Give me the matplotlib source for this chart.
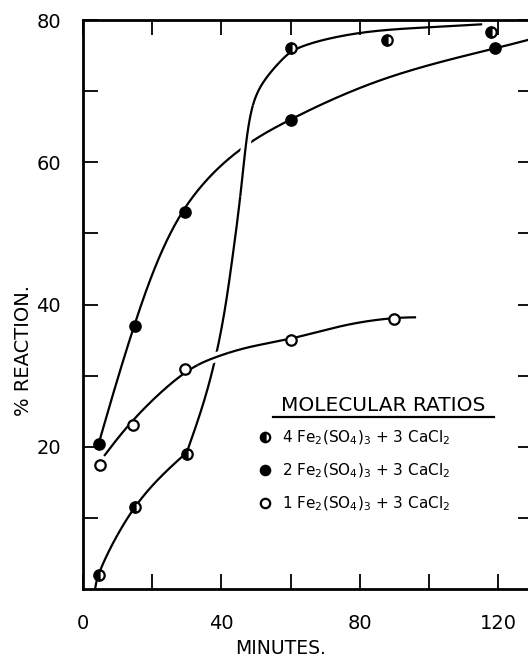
import numpy as np
import matplotlib
matplotlib.use("Agg")
import matplotlib.pyplot as plt
import matplotlib.patheffects as pe
from matplotlib.ticker import FixedLocator, NullFormatter

# Observed reaction extents (% reaction vs minutes)
t_4fe = [4.5, 15, 30, 60, 88, 118]
r_4fe = [2.0, 11.5, 19.0, 76.0, 77.2, 78.3]

t_2fe = [4.5, 15, 29.5, 60, 119]
r_2fe = [20.4, 37.0, 53.0, 66.0, 76.0]

t_1fe = [5, 14.5, 29.5, 60, 90]
r_1fe = [17.5, 23.0, 31.0, 35.0, 38.0]

# Hand-fitted curves, as guide points along each drawn line.
# The 4:3 curve has a break in slope at 30 min, so it is fitted in two pieces.
fit_4fe_a_t = [3.5, 4.5, 15, 30]
fit_4fe_a_r = [0.0, 2.0, 11.5, 19.2]
fit_4fe_b_t = [30, 34.4, 37.9, 40.8, 43.1, 45.1, 46.6, 48.6, 51.8, 57.5, 62, 79, 101, 115.4]
fit_4fe_b_r = [19.2, 25.5, 31.7, 38.7, 46.2, 53.7, 60.3, 67.0, 71.0, 74.4, 76.0, 78.1, 79.0, 79.4]

fit_2fe_t = [4.5, 15, 29, 45, 60, 87.6, 119, 131]
fit_2fe_r = [20.4, 37.3, 53.2, 61.6, 66.0, 71.8, 76.0, 77.5]

fit_1fe_t = [6.1, 15, 29.2, 37.9, 48, 60, 77, 90.5, 96.3]
fit_1fe_r = [18.7, 24.0, 30.3, 32.5, 34.0, 35.2, 37.2, 38.1, 38.2]

labels = [r"4 Fe$_2$(SO$_4$)$_3$ + 3 CaCl$_2$",
          r"2 Fe$_2$(SO$_4$)$_3$ + 3 CaCl$_2$",
          r"1 Fe$_2$(SO$_4$)$_3$ + 3 CaCl$_2$"]

x_major = [0, 40, 80, 120]
x_minor = [20, 60, 100]
y_major = [20, 40, 60, 80]
y_minor = [10, 30, 50, 70]

XSCALE, YSCALE = 3.458, 7.1  # px per unit, so the curve parameter follows arc length


def natural_spline(s, v, snew):
    """Natural cubic spline of v(s) evaluated at snew."""
    n = len(s)
    h = np.diff(s)
    A = np.zeros((n, n))
    b = np.zeros(n)
    A[0, 0] = A[-1, -1] = 1.0
    for i in range(1, n - 1):
        A[i, i - 1] = h[i - 1]
        A[i, i] = 2 * (h[i - 1] + h[i])
        A[i, i + 1] = h[i]
        b[i] = 6 * ((v[i + 1] - v[i]) / h[i] - (v[i] - v[i - 1]) / h[i - 1])
    M = np.linalg.solve(A, b)
    k = np.clip(np.searchsorted(s, snew) - 1, 0, n - 2)
    hk = h[k]
    a = (s[k + 1] - snew) / hk
    c = (snew - s[k]) / hk
    return (a * v[k] + c * v[k + 1]
            + ((a ** 3 - a) * M[k] + (c ** 3 - c) * M[k + 1]) * hk ** 2 / 6)


def smooth(tx, ty, n=400):
    x = np.asarray(tx, float) * XSCALE
    y = np.asarray(ty, float) * YSCALE
    d = np.sqrt(np.hypot(np.diff(x), np.diff(y)))
    s = np.concatenate([[0], np.cumsum(d)])
    ss = np.linspace(0, s[-1], n)
    return natural_spline(s, x, ss) / XSCALE, natural_spline(s, y, ss) / YSCALE


plt.rcParams['font.family'] = ['DejaVu Sans']
plt.rcParams['mathtext.fontset'] = 'dejavusans'

fig = plt.figure(figsize=(5.28, 6.59), dpi=100)
ax = fig.add_axes([83 / 528, 70 / 659, 450 / 528, 569 / 659])
ax.set_xlim(0, 130.1)
ax.set_ylim(0, 80)

lw = 1.6
style = dict(color='black', lw=lw, solid_capstyle='butt', solid_joinstyle='round',
             clip_on=False)
gap = [pe.Stroke(linewidth=7, foreground='white', capstyle='butt'), pe.Normal()]

bx, by = smooth(fit_2fe_t, fit_2fe_r)
ax1, ay1 = smooth(fit_4fe_a_t, fit_4fe_a_r)
ax2, ay2 = smooth(fit_4fe_b_t, fit_4fe_b_r)
axx, ayy = np.concatenate([ax1, ax2]), np.concatenate([ay1, ay2])
cx, cy = smooth(fit_1fe_t, fit_1fe_r)

ax.plot(bx, by, zorder=2.0, **style)
ax.plot(axx, ayy, zorder=2.0, **style)
ax.plot(cx, cy, zorder=2.0, **style)

# Where curves cross, the upper one is drawn again with a white margin
# so the line beneath it shows a small break
sel = (ayy > 55) & (ayy < 68)
ax.plot(axx[sel], ayy[sel], zorder=2.1, path_effects=gap, **style)
sel = (cx > 33) & (cx < 42)
ax.plot(cx[sel], cy[sel], zorder=2.2, path_effects=gap, **style)

ms, mew = 7.5, 1.6
h4, = ax.plot(t_4fe, r_4fe, ls='none', marker='o', ms=ms, mew=mew, mec='black',
              mfc='black', fillstyle='left', markerfacecoloralt='white', zorder=3,
              label=labels[0])
h2, = ax.plot(t_2fe, r_2fe, ls='none', marker='o', ms=ms, mew=mew, mec='black',
              mfc='black', zorder=3, label=labels[1])
h1, = ax.plot(t_1fe, r_1fe, ls='none', marker='o', ms=ms, mew=mew, mec='black',
              mfc='white', zorder=3, label=labels[2])

for s in ax.spines.values():
    s.set_linewidth(2.0)
    s.set_zorder(2.5)

ax.xaxis.set_major_locator(FixedLocator(x_major))
ax.xaxis.set_minor_locator(FixedLocator(x_minor))
ax.yaxis.set_major_locator(FixedLocator(y_major))
ax.yaxis.set_minor_locator(FixedLocator(y_minor))
ax.xaxis.set_minor_formatter(NullFormatter())
ax.yaxis.set_minor_formatter(NullFormatter())
ax.tick_params(which='both', direction='in', length=11, width=1.3,
               top=True, right=True, labelsize=14)
ax.tick_params(axis='x', which='major', pad=18)
ax.tick_params(axis='y', which='major', pad=16)

ax.set_xlabel("MINUTES.", fontsize=13.5)
ax.xaxis.set_label_coords(0.44, -0.088)
ax.set_ylabel("% REACTION.", fontsize=14)
ax.yaxis.set_label_coords(-0.112, 0.42)

# Legend block
ax.text(0.667, 0.323, "MOLECULAR RATIOS", transform=ax.transAxes,
        ha='center', va='center', fontsize=14.5)
ax.plot([0.422, 0.913], [0.302, 0.302], transform=ax.transAxes,
        color='black', lw=1.6, clip_on=False)
ax.legend(handles=[h4, h2, h1], loc='upper left', bbox_to_anchor=(0.388, 0.282),
          frameon=False, fontsize=11, handlelength=1.0, handletextpad=0.6,
          labelspacing=0.95, borderpad=0, borderaxespad=0, markerscale=0.9)

fig.savefig("out.png", dpi=100, facecolor='white')
